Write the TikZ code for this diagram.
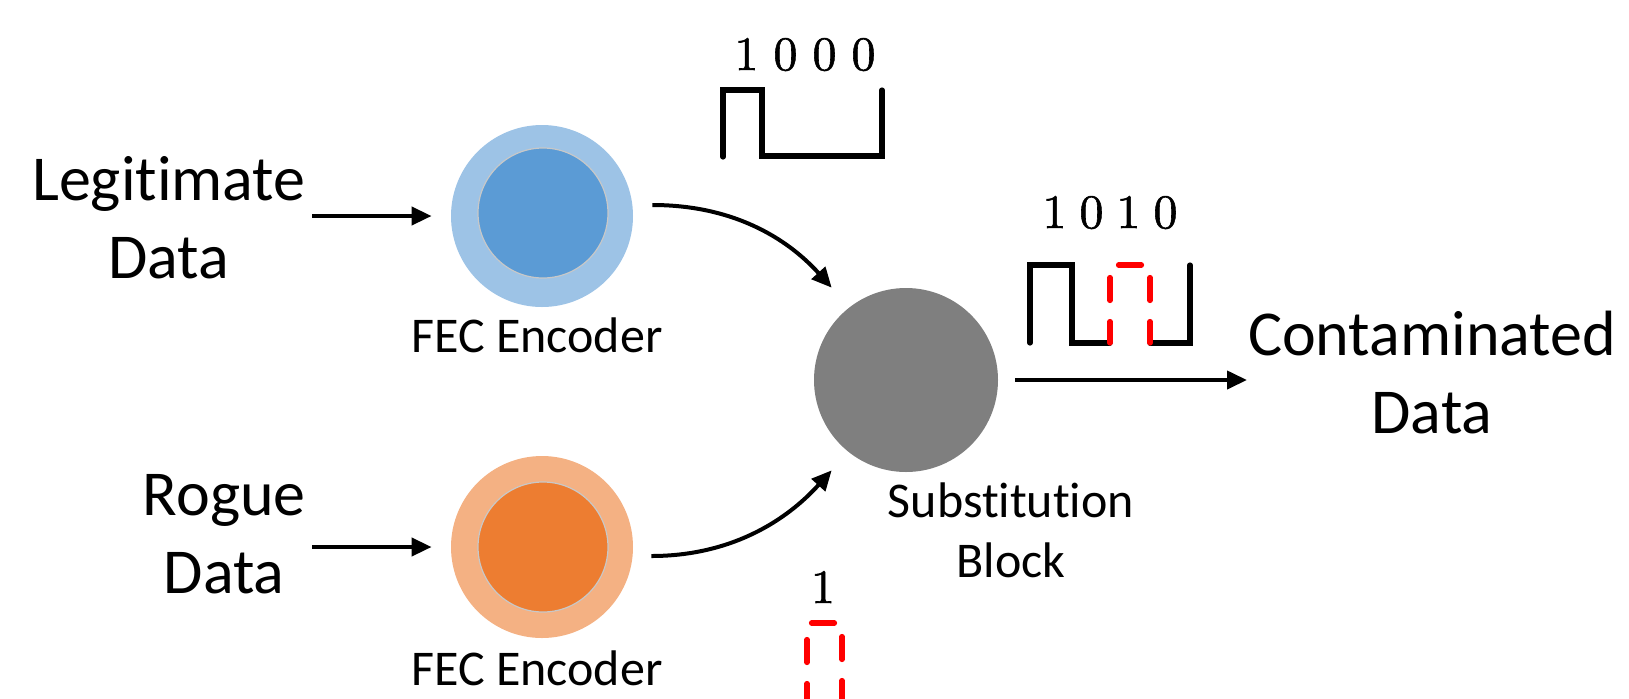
\documentclass[tikz,border=0pt]{standalone}
\usepackage{fontspec}
\setmainfont{Carlito}[Ligatures=NoCommon]
\newfontfamily\digitfont{lmroman10-regular.otf}[FakeBold=1.2]
\usetikzlibrary{arrows.meta}
\definecolor{blueL}{HTML}{9DC3E6}
\definecolor{blueD}{HTML}{5B9BD5}
\definecolor{orangeL}{HTML}{F4B183}
\definecolor{orangeD}{HTML}{ED7D31}
\definecolor{grayD}{HTML}{7F7F7F}
\definecolor{ringedge}{HTML}{C8C8C8}
\definecolor{redW}{HTML}{FF0000}
\tikzset{
  outerc/.style={circle, draw=none, minimum size=91pt, inner sep=0pt},
  innerc/.style={circle, draw=ringedge, line width=0.6pt, minimum size=65pt, inner sep=0pt},
  bigtxt/.style={font=\fontsize{32}{39}\selectfont, align=center, inner sep=0pt},
  smalltxt/.style={font=\fontsize{25}{30}\selectfont, align=center, inner sep=0pt},
  digits/.style={font=\digitfont\fontsize{24}{28}\selectfont, inner sep=0pt},
  arr/.style={line width=2pt, -{Triangle[length=10pt,width=9pt]}},
  wave/.style={line width=2.6pt, line cap=round, line join=miter},
  redwave/.style={line width=2.6pt, line cap=round, color=redW, dash pattern=on 11.5pt off 10.5pt, dash phase=0.75pt}
}
\begin{document}
\begin{tikzpicture}[x=0.5pt,y=-0.5pt]
\useasboundingbox (0,0) rectangle (1629,698);

% encoders
\node[outerc, fill=blueL] (encA) at (542,216) {};
\node[innerc, fill=blueD] (encAin) at (543,213) {};
\node[outerc, fill=orangeL] (encB) at (542,547) {};
\node[innerc, fill=orangeD] (encBin) at (543,547) {};
\node[circle, fill=grayD, minimum size=92pt, inner sep=0pt] (sub) at (906,380) {};

% labels (base anchor = baseline of last line)
\node[bigtxt, anchor=base east] (legit) at (306,278) {Legitimate\\Data};
\node[bigtxt, anchor=base east] (rogue) at (306,593) {Rogue\\Data};
\node[bigtxt, anchor=base] (cont) at (1432,433) {Contaminated\\Data};
\node[smalltxt, anchor=base] (encAlbl) at (537,352) {FEC Encoder};
\node[smalltxt, anchor=base] (encBlbl) at (537,685) {FEC Encoder};
\node[smalltxt, anchor=base] (sublbl) at (1011,577) {Substitution\\Block};

% connectors
\draw[arr, shorten <=3pt, shorten >=9.5pt] (legit.east |- encA.center) -- (encA.west);
\draw[arr, shorten <=3pt, shorten >=9.5pt] (rogue.east |- encB.center) -- (encB.west);
\draw[arr] ([shift={(19,-11)}]encA.east) .. controls +(80,0) and +(-45,-50) .. ([shift={(-9,-27)}]sub.north west);
\draw[arr] ([shift={(18,9)}]encB.east) .. controls +(80,0) and +(-45,50) .. ([shift={(-9,25)}]sub.south west);
\coordinate (outEnd) at (1247,380);
\draw[arr, shorten <=8.5pt] (sub.east) -- (outEnd);

% waveform 1000
\node[digits, anchor=base] (d1000) at (805,70) {1\kern7.5pt 0\kern7.5pt 0\kern7.5pt 0};
\draw[wave] (723,157) -- (723,90) -- (762,90) -- (762,156) -- (882,156) -- (882,90);

% waveform 1010
\node[digits, anchor=base] (d1010) at (1110,228) {1\kern6.5pt 0\kern6.5pt 1\kern6.5pt 0};
\draw[wave] (1030,343) -- (1030,265) -- (1072,265) -- (1072,343) -- (1110,343);
\draw[wave] (1150,343) -- (1190,343) -- (1190,265);
\draw[redwave] (1110,343) -- (1110,265) -- (1150,265) -- (1150,343);

% waveform 1 (rogue)
\node[digits, anchor=base] (d1) at (823,603) {1};
\begin{scope}
\clip (0,0) rectangle (1629,698);
\draw[redwave] (807,705) -- (807,623) -- (842,623) -- (842,705);
\end{scope}
\end{tikzpicture}
\end{document}
